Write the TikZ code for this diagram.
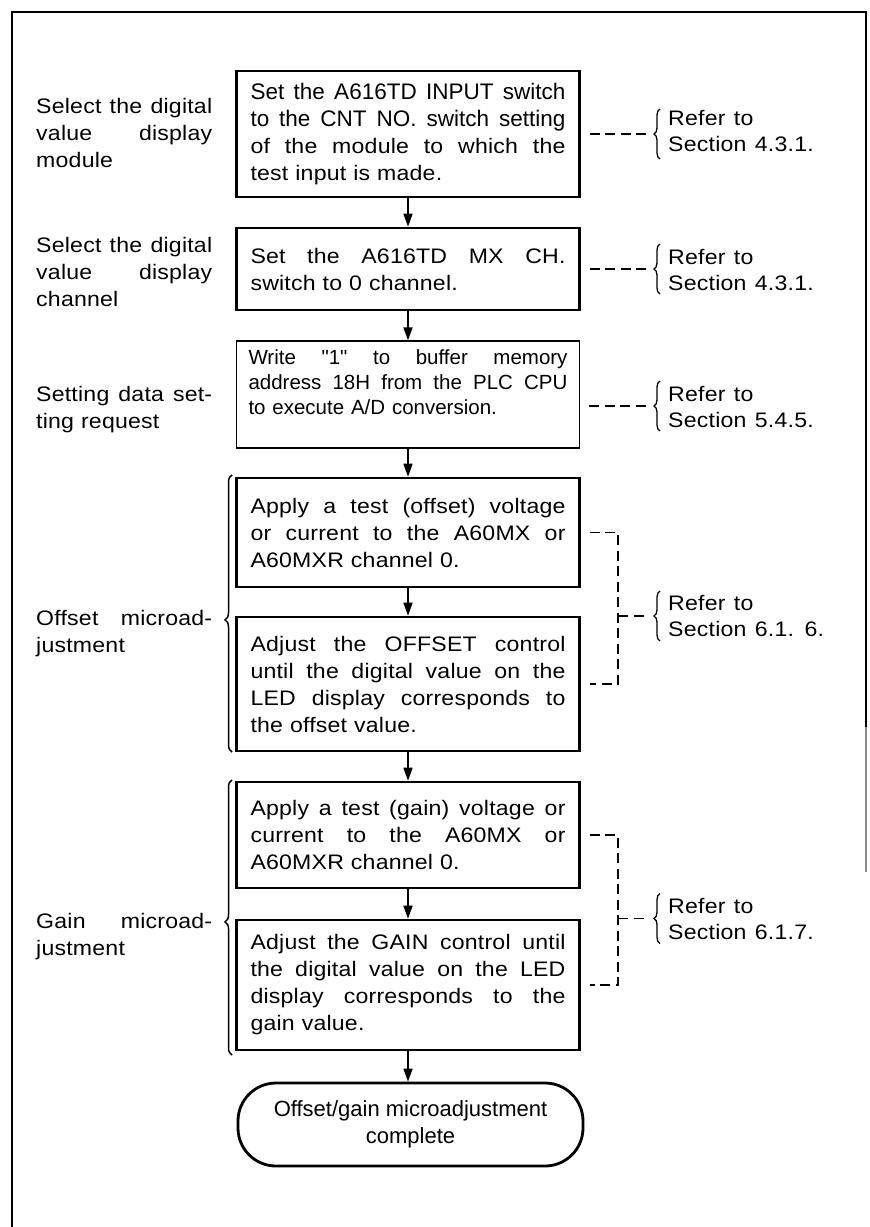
\documentclass[tikz,border=0pt]{standalone}
\usepackage{fontspec}
\setmainfont{Liberation Sans}[FakeStretch=1.1,LetterSpace=1,Ligatures=TeXOff]
\newfontfamily\narrowf{Liberation Sans}[Ligatures=TeXOff]
\usetikzlibrary{arrows.meta,decorations.pathreplacing}
\newcommand{\jline}[2]{\leavevmode\hbox to #1{\spaceskip=0.3em plus 1fil\relax #2}}
\begin{document}
\begin{tikzpicture}[x=1pt,y=-1pt,
  font=\fontsize{21}{27}\selectfont,
  procbox/.style={draw,line width=2.6pt,minimum width=343pt,text width=315pt,inner xsep=14pt,inner ysep=0pt,align=left},
  thinbox/.style={procbox,line width=1.3pt},
  lbl/.style={text width=176pt,inner sep=0pt,align=left,anchor=west},
  refnode/.style={inner sep=0pt,align=left,anchor=west,font={\fontsize{21}{26}\selectfont\spaceskip=0.4em\relax}},
  arr/.style={line width=1.6pt,-{Triangle[length=13pt,width=9pt]}},
  dsh/.style={line width=1.8pt,dash pattern=on 10pt off 5.5pt},
  rbrace/.style={decorate,decoration={brace,amplitude=6pt},line width=1.3pt},
  bigbrace/.style={decorate,decoration={brace,amplitude=7pt,aspect=#1},line width=1.5pt}
]
\useasboundingbox (0,0) rectangle (870,1227);
% frame
\draw[line width=2.8pt] (12,1227) -- (12,12) -- (866,12) -- (866,727);
\draw[line width=1.6pt,black!45] (866,727) -- (866,872);

% process boxes
\node[procbox,minimum height=126pt] (b1) at (408,134)
  {{\narrowf\fontsize{22.5}{27}\selectfont\jline{315pt}{Set the A616TD INPUT switch}}\\ {\narrowf\fontsize{22.5}{27}\selectfont\jline{315pt}{to the CNT NO. switch setting}}\\ \jline{315pt}{of the module to which the}\\ test input is made.};
\node[procbox,minimum height=82pt] (b2) at (408,269)
  {\jline{315pt}{Set the A616TD MX CH.}\\ switch to 0 channel.};
\node[thinbox,minimum height=107pt,text width=319pt,inner xsep=12pt,font=\narrowf\fontsize{20.5}{25}\selectfont] (b3) at (408,394.5)
  {\jline{319pt}{Write "1" to buffer memory}\\ \jline{319pt}{address 18H from the PLC CPU}\\ to execute A/D conversion.\\ \mbox{}};
\node[procbox,minimum height=109pt] (b4) at (408,532.5)
  {\jline{315pt}{Apply a test (offset) voltage}\\ \jline{315pt}{or current to the A60MX or}\\ A60MXR channel 0.};
\node[procbox,minimum height=134pt] (b5) at (408,684)
  {\jline{315pt}{Adjust the OFFSET control}\\ \jline{315pt}{until the digital value on the}\\ \jline{315pt}{LED display corresponds to}\\ the offset value.};
\node[procbox,minimum height=106pt] (b6) at (408,835)
  {\jline{315pt}{Apply a test (gain) voltage or}\\ \jline{315pt}{current to the A60MX or}\\ A60MXR channel 0.};
\node[procbox,minimum height=130pt] (b7) at (408,985)
  {\jline{315pt}{Adjust the GAIN control until}\\ \jline{315pt}{the digital value on the LED}\\ \jline{315pt}{display corresponds to the}\\ gain value.};
\node[draw,line width=2.8pt,rounded corners=38pt,minimum width=345pt,minimum height=83pt,align=center,inner sep=0pt,font=\narrowf\fontsize{22}{27}\selectfont] (t) at (410.5,1124.5)
  {Offset/gain microadjustment\\ complete};

% arrows
\draw[arr] (b1.south) -- (b2.north);
\draw[arr] (b2.south) -- (b3.north);
\draw[arr] (b3.south) -- (b4.north);
\draw[arr] (b4.south) -- (b5.north);
\draw[arr] (b5.south) -- (b6.north);
\draw[arr] (b6.south) -- (b7.north);
\draw[arr] (b7.south) -- (b7.south |- t.north);

% left labels
\node[lbl] (l1) at (36,132.5) {\jline{176pt}{Select the digital}\\ \jline{176pt}{value display}\\ module};
\node[lbl] (l2) at (36,271.5) {\jline{176pt}{Select the digital}\\ \jline{176pt}{value display}\\ channel};
\node[lbl] (l3) at (36,410) {\jline{176pt}{Setting data set-}\\ ting request};
\node[lbl] (l4) at (36,633.5) {\jline{176pt}{Offset microad-}\\ justment};
\node[lbl] (l5) at (36,936.5) {\jline{176pt}{Gain microad-}\\ justment};

% left big braces
\draw[bigbrace=0.477] (232,752) -- (232,475);
\draw[bigbrace=0.484] (232,1055) -- (232,780);

% right references
\coordinate (r1) at (654,134);
\coordinate (r2) at (654,269);
\coordinate (r3) at (654,406);
\coordinate (r4) at (654,616);
\coordinate (r5) at (654,918.5);
\coordinate (k) at (618,0);

\draw[rbrace] (660,159) -- (660,109);
\draw[rbrace] (660,294) -- (660,244);
\draw[rbrace] (660,431) -- (660,381);
\draw[rbrace] (660,641) -- (660,591);
\draw[rbrace] (660,943.5) -- (660,893.5);

\node[refnode] (f1) at (668,131) {Refer to\\ Section 4.3.1.};
\node[refnode] (f2) at (668,269.5) {Refer to\\ Section 4.3.1.};
\node[refnode] (f3) at (668,406.5) {Refer to\\ Section 5.4.5.};
\node[refnode] (f4) at (668,615.5) {Refer to\\ Section 6.1. 6.};
\node[refnode] (f5) at (668,918.5) {Refer to\\ Section 6.1.7.};

\draw[dsh,shorten <=9pt,shorten >=7pt] (b1.east) -- (r1);
\draw[dsh,shorten <=9pt,shorten >=7pt] (b2.east) -- (r2);
\draw[dsh,shorten <=9pt,shorten >=7pt] (r3 -| b3.east) -- (r3);
\draw[dsh,shorten <=9pt,shorten >=9pt] (b4.east) -- (b4.east -| k) -- (b5.east -| k) -- (b5.east);
\draw[dsh,shorten >=7pt] (r4 -| k) -- (r4);
\draw[dsh,shorten <=9pt,shorten >=9pt] (b6.east) -- (b6.east -| k) -- (b7.east -| k) -- (b7.east);
\draw[dsh,shorten >=7pt] (r5 -| k) -- (r5);
\end{tikzpicture}
\end{document}
